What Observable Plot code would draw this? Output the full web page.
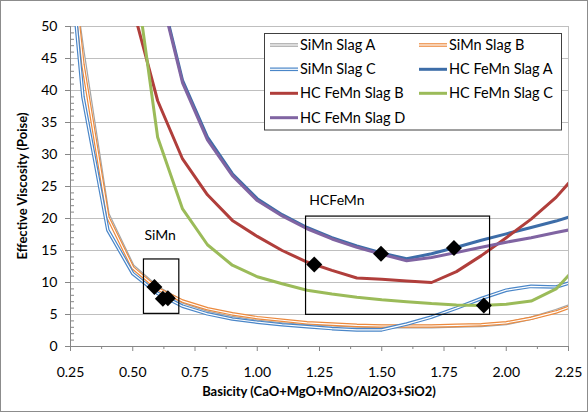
<!DOCTYPE html>
<html><head><meta charset="utf-8">
<script src="https://cdn.jsdelivr.net/npm/d3@7"></script>
<script src="https://cdn.jsdelivr.net/npm/@observablehq/plot@0.6"></script>
<style>body{margin:0;background:#fff} #chart{width:588px;height:412px}</style>
</head><body><div id="chart"></div>
<script>
// ---- data ----
const xSiMn = [0.25,0.3,0.4,0.5,0.6,0.7,0.8,0.9,1.0,1.1,1.2,1.3,1.4,1.5,1.6,1.7,1.8,1.9,2.0,2.1,2.2,2.25];
const siMnA = [60,46,20.7,12.6,9.2,7.0,5.7,4.9,4.3,3.9,3.6,3.4,3.2,3.1,3.1,3.1,3.2,3.3,3.6,4.4,5.6,6.3];
const siMnB = [62,44,20.2,12.3,9.0,7.1,5.9,5.1,4.5,4.1,3.7,3.5,3.3,3.2,3.2,3.2,3.3,3.4,3.7,4.4,5.4,6.1];
const siMnC = [60,39,18.2,11.4,8.3,6.3,5.1,4.3,3.8,3.4,3.1,2.8,2.6,2.6,3.5,4.6,6.0,7.5,8.8,9.4,9.3,9.9];
const xHC = [0.5,0.6,0.7,0.8,0.9,1.0,1.1,1.2,1.3,1.4,1.5,1.6,1.7,1.8,1.9,2.0,2.1,2.2,2.25];
const hcA = [null,57.4,41.6,32.7,27.0,23.1,20.6,18.6,17.0,15.7,14.6,13.7,14.5,15.5,16.6,17.6,18.6,19.6,20.2];
const hcB = [53,38.4,29.3,23.7,19.7,17.2,15.0,13.2,11.9,10.7,10.5,10.25,10.0,11.7,14.2,17.0,19.9,23.3,25.5];
const hcC = [61,32.7,21.5,15.9,12.7,10.9,9.8,8.8,8.2,7.7,7.3,7.0,6.7,6.5,6.4,6.6,7.1,9.0,11.1];
const hcD = [null,57.0,41.2,32.3,26.7,22.8,20.4,18.4,16.8,15.5,14.4,13.4,13.9,14.7,15.5,16.3,17.0,17.8,18.2];
const seriesNames = ["SiMn Slag A","SiMn Slag B","SiMn Slag C","HC FeMn Slag A","HC FeMn Slag B","HC FeMn Slag C","HC FeMn Slag D"];
const markX = [0.587,0.621,0.641,1.229,1.497,1.79,1.91];
const markY = [9.3,7.45,7.55,12.8,14.5,15.4,6.4];
const boxNames = ["SiMn","HCFeMn"];
const boxX1 = [0.545,1.196], boxX2 = [0.687,1.935];
const boxY1 = [5.1,4.95], boxY2 = [13.6,20.3];
const labelX = [0.61,1.32], labelY = [17.3,22.8];
const xTicks = [0.25,0.5,0.75,1.0,1.25,1.5,1.75,2.0,2.25];
const xMinor = [0.375,0.625,0.875,1.125,1.375,1.625,1.875,2.125];
const yTicks = [0,5,10,15,20,25,30,35,40,45,50];
const yMinor = d3.range(0,51,1).filter(v => v % 5 !== 0);

// ---- styling ----
const series = [
  {xs:xSiMn, ys:siMnA, color:"#a5a5a5", double:true},
  {xs:xSiMn, ys:siMnB, color:"#ec8a3e", double:true},
  {xs:xSiMn, ys:siMnC, color:"#4a86c8", double:true},
  {xs:xHC, ys:hcA, color:"#3d6da8", double:false},
  {xs:xHC, ys:hcB, color:"#b03e3b", double:false},
  {xs:xHC, ys:hcC, color:"#9bbb59", double:false},
  {xs:xHC, ys:hcD, color:"#8064a2", double:false}
].map((s,i)=>({...s, name:seriesNames[i]}));

const lineMarks = [];
for (const s of series) {
  const data = s.xs.map((x,i)=>({x, y:s.ys[i]})).filter(d=>d.y!=null);
  if (s.double) {
    lineMarks.push(Plot.line(data,{x:"x",y:"y",stroke:s.color,strokeWidth:3.6,clip:true}));
    lineMarks.push(Plot.line(data,{x:"x",y:"y",stroke:"#fff",strokeWidth:1.2,clip:true}));
  } else {
    lineMarks.push(Plot.line(data,{x:"x",y:"y",stroke:s.color,strokeWidth:3,clip:true}));
  }
}
const boxes = boxNames.map((n,i)=>({n,x1:boxX1[i],x2:boxX2[i],y1:boxY1[i],y2:boxY2[i],lx:labelX[i],ly:labelY[i]}));
const markers = markX.map((x,i)=>({x,y:markY[i]}));

const W=588,H=412;
const plot = Plot.plot({
  width:W, height:H, marginLeft:70, marginRight:20, marginTop:26, marginBottom:66,
  style:{fontFamily:"Lato, sans-serif", fontSize:"14px", color:"#000", background:"#fff"},
  x:{domain:[0.25,2.25]},
  y:{domain:[0,50]},
  marks:[
    Plot.gridY(yTicks,{stroke:"#bfbfbf",strokeOpacity:1}),
    Plot.ruleX([2.25],{stroke:"#bfbfbf"}),
    ...lineMarks,
    Plot.rect(boxes,{x1:"x1",x2:"x2",y1:"y1",y2:"y2",fill:"none",stroke:"#000",strokeWidth:1.2}),
    Plot.text(boxes,{x:"lx",y:"ly",text:"n",fontSize:14,fill:"#000"}),
    Plot.dot(markers,{x:"x",y:"y",symbol:"diamond2",r:7.2,fill:"#000",stroke:"none"}),
    Plot.axisX(xTicks,{tickFormat:d3.format(".2f"),tickSize:5,tickPadding:16,stroke:"#868686",fill:"#000",label:null,fontSize:14}),
    Plot.axisX(xMinor,{tickSize:3,text:null,label:null,stroke:"#868686"}),
    Plot.axisY(yTicks,{tickSize:5,tickPadding:8,stroke:"#868686",fill:"#000",label:null,fontSize:14}),
    Plot.axisY(yMinor,{tickSize:4,dx:4,text:null,label:null,stroke:"#868686"}),
    Plot.ruleX([0.25],{stroke:"#868686"}),
    Plot.ruleY([0],{stroke:"#868686"})
  ]
});

const svg = d3.select(plot);
// titles
svg.append("text").attr("x",319).attr("y",396).attr("text-anchor","middle")
  .attr("font-family","Lato, sans-serif").attr("font-weight","bold").attr("font-size",13)
  .text("Basicity (CaO+MgO+MnO/Al2O3+SiO2)");
svg.append("text").attr("transform","translate(27,186) rotate(-90)").attr("text-anchor","middle")
  .attr("font-family","Lato, sans-serif").attr("font-weight","bold").attr("font-size",13)
  .text("Effective Viscosity (Poise)");
// legend
const lg = svg.append("g").attr("text-anchor","start");
lg.append("rect").attr("x",264.5).attr("y",33.5).attr("width",297).attr("height",96.5)
  .attr("fill","#fff").attr("stroke","#404040");
const rowsY=[45,69.3,93.3,117.7], colX=[270,419];
series.forEach((s,i)=>{
  const cx = colX[i%2], cy = rowsY[Math.floor(i/2)];
  lg.append("line").attr("x1",cx).attr("x2",cx+28).attr("y1",cy).attr("y2",cy)
    .attr("stroke",s.color).attr("stroke-width",s.double?3.6:3);
  if (s.double) lg.append("line").attr("x1",cx).attr("x2",cx+28).attr("y1",cy).attr("y2",cy)
    .attr("stroke","#fff").attr("stroke-width",1.2);
  lg.append("text").attr("x",cx+30).attr("y",cy).attr("dy","0.35em").attr("text-anchor","start")
    .attr("font-family","Lato, sans-serif").attr("font-size",14.5).text(s.name);
});
// chart border
svg.append("rect").attr("x",0.5).attr("y",0.5).attr("width",W-1).attr("height",H-1)
  .attr("fill","none").attr("stroke","#8c8c8c");
document.getElementById("chart").appendChild(plot);
</script></body></html>
